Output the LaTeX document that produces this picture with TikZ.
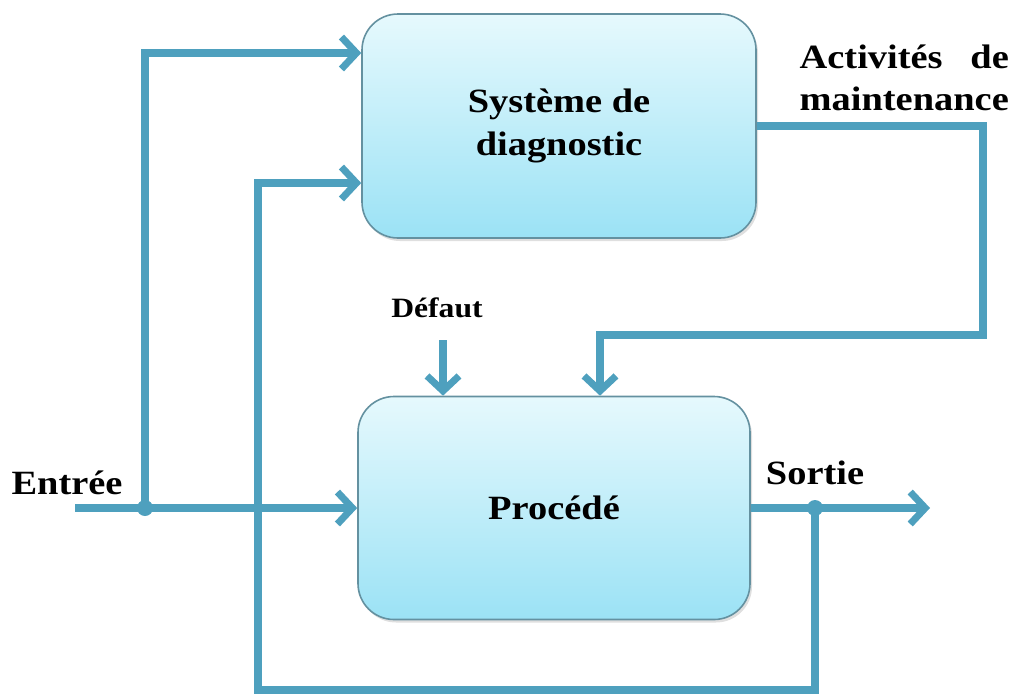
\documentclass[tikz,border=0pt]{standalone}
\usepackage{fontspec}
\usepackage{calc}
\setmainfont{Liberation Serif}[FakeStretch=1.13]
\usetikzlibrary{arrows.meta,shadows,calc}
\definecolor{linec}{RGB}{78,160,190}
\definecolor{boxtop}{RGB}{230,249,253}
\definecolor{boxbot}{RGB}{155,226,245}
\definecolor{boxedge}{RGB}{100,145,160}
\tikzset{
  blockbox/.style={draw=boxedge, line width=1.6pt, rounded corners=36pt,
    top color=boxtop, bottom color=boxbot, minimum width=394pt, minimum height=224pt,
    align=center, font=\fontsize{34}{43}\selectfont\bfseries,
    drop shadow={opacity=0.25, shadow xshift=2pt, shadow yshift=-3pt}},
  conn/.style={draw=linec, line width=8pt},
  arr/.style={conn, -{Straight Barb[length=15pt, width=32pt, line width=7pt]}},
  lbl/.style={font=\fontsize{34}{42}\selectfont\bfseries, inner sep=0pt},
  dot/.style={circle, fill=linec, minimum size=16pt, inner sep=0pt}
}
\begin{document}
\begin{tikzpicture}[x=1pt, y=-1pt]
\useasboundingbox (0,0) rectangle (1016,699);
\node[blockbox] (diag) at (559,126) {Système de\\diagnostic};
\node[blockbox, minimum width=392pt, minimum height=223pt] (proc) at (554,508) {Procédé};

\coordinate (in) at (75,508);
\coordinate (j1) at (145,508);
\coordinate (j2) at (815,508);
\coordinate (out) at (930,508);
\coordinate (fbl) at (258,690);
\coordinate (m1) at (983,335);
\coordinate (mt) at ([xshift=46pt]proc.north);
\coordinate (dt) at ([xshift=-111pt]proc.north);
\coordinate (ds) at (443,340);

\node[lbl] (entree) at (67,483) {Entrée};
\node[lbl] (sortie) at (815,473) {Sortie};
\node[lbl, font=\fontsize{28}{32}\selectfont\bfseries] (defaut) at (437,308) {Défaut};
\node[lbl, anchor=east, align=right] (maint) at (1009,78)
  {\makebox[\widthof{maintenance}][s]{Activités\hfill de}\\maintenance};

\draw[arr] (in) -- (proc.west);
\draw[arr] (j1) |- ([yshift=73pt]diag.west);
\draw[arr] (j2) |- (fbl) |- ([yshift=-57pt]diag.west);
\draw[arr] (proc.east) -- (out);
\draw[arr] (diag.east) -| (m1) -| (mt);
\draw[arr] (ds) -- (dt);
\node[dot] (d1) at (j1) {};
\node[dot] (d2) at (j2) {};
\end{tikzpicture}
\end{document}
